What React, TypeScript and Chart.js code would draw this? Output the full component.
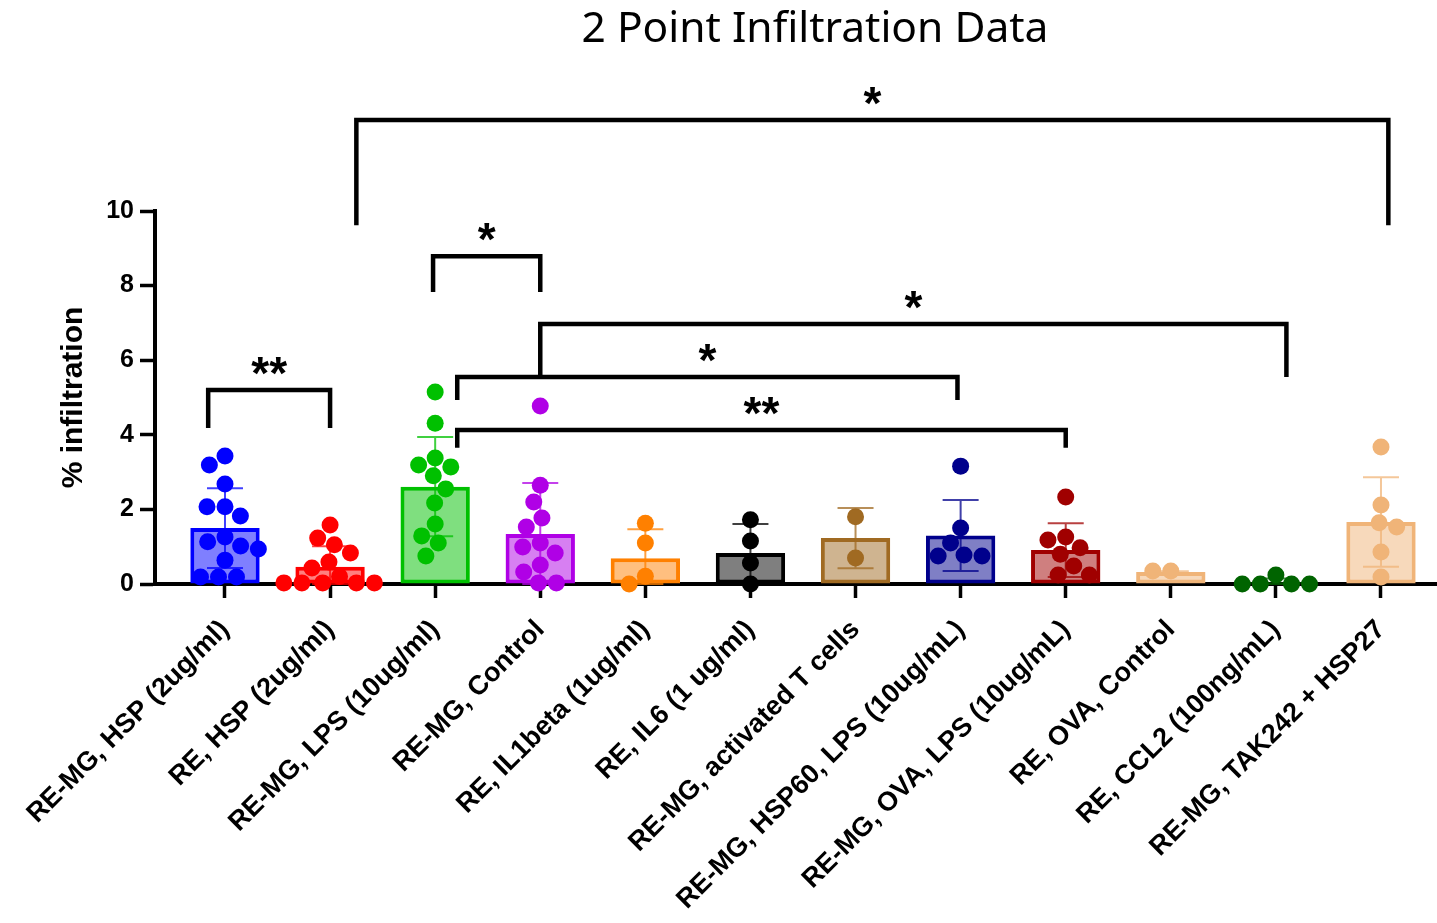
import React, { useEffect, useRef } from 'react';
import { Chart, registerables } from 'chart.js';

Chart.register(...registerables);

// ---------------- DATA ----------------
const categories = [
  'RE-MG, HSP (2ug/ml)',
  'RE, HSP (2ug/ml)',
  'RE-MG, LPS (10ug/ml)',
  'RE-MG, Control',
  'RE, IL1beta (1ug/ml)',
  'RE, IL6 (1 ug/ml)',
  'RE-MG, activated T cells',
  'RE-MG, HSP60, LPS (10ug/mL)',
  'RE-MG, OVA, LPS (10ug/mL)',
  'RE, OVA, Control',
  'RE, CCL2 (100ng/mL)',
  'RE-MG, TAK242 + HSP27',
];

const means = [1.5, 0.46, 2.61, 1.34, 0.69, 0.83, 1.23, 1.3, 0.91, 0.32, 0.05, 1.66];
const sds = [1.07, 0.55, 1.33, 1.37, 0.78, 0.78, 0.81, 0.95, 0.72, 0.02, 0.1, 1.2];

const pts0 = [3.43, 3.19, 2.68, 2.07, 2.07, 1.82, 1.26, 1.13, 1.02, 0.94, 0.64, 0.19, 0.19, 0.19];
const pts1 = [1.58, 1.23, 1.05, 0.83, 0.59, 0.43, 0.2, 0.03, 0.03, 0.03, 0.03, 0.03];
const pts2 = [5.15, 4.31, 3.38, 3.19, 3.14, 2.9, 2.55, 2.17, 1.61, 1.29, 1.1, 0.75];
const pts3 = [4.77, 2.65, 2.2, 1.77, 1.53, 1.1, 0.99, 0.83, 0.51, 0.32, 0.03, 0.03];
const pts4 = [1.63, 1.1, 0.21, 0.0];
const pts5 = [1.72, 1.15, 0.56, 0.0];
const pts6 = [1.8, 0.7];
const pts7 = [3.16, 1.5, 1.1, 0.78, 0.75, 0.75];
const pts8 = [2.33, 1.26, 1.18, 0.97, 0.8, 0.48, 0.24, 0.24];
const pts9 = [0.35, 0.35];
const pts10 = [0.24, 0.0, 0.0, 0.0, 0.0];
const pts11 = [3.67, 2.12, 1.64, 1.53, 0.86, 0.19];
const points = [pts0, pts1, pts2, pts3, pts4, pts5, pts6, pts7, pts8, pts9, pts10, pts11];

const yTicks = [0, 2, 4, 6, 8, 10];

// significance brackets (x in category index units, y in % units)
const bracketFrom = [-0.16, 1.98, 1.25, 3.0, 2.21, 2.21];
const bracketTo = [1.0, 3.0, 11.07, 10.1, 6.97, 8.0];
const bracketLevel = [5.2, 8.79, 12.44, 6.97, 5.55, 4.13];
const bracketLegEnd = [4.18, 7.83, 9.62, 5.55, 4.93, 3.65];
const bracketLabels = ['**', '*', '*', '*', '*', '**'];

// ---------------- STYLE ----------------
const colors = [
  '#0000FF', '#FF0000', '#00C000', '#B000E6', '#FF8000', '#000000',
  '#A06A22', '#00008C', '#A00000', '#F0B478', '#006400', '#F0B478',
];
function fillOf(hex: string) {
  const r = parseInt(hex.slice(1, 3), 16);
  const g = parseInt(hex.slice(3, 5), 16);
  const b = parseInt(hex.slice(5, 7), 16);
  return `rgba(${r},${g},${b},0.5)`;
}

const AXIS_FONT = "'Liberation Sans', Arial, sans-serif";
const DOT_R = 8.5;

function swarm(values: number[], sep: number, xPx: number, yPx: number): number[] {
  const placed: { dx: number; y: number }[] = [];
  const out: number[] = [];
  for (const v of values) {
    const y = v * yPx;
    const cands = [0];
    for (const p of placed) {
      const dy = Math.abs(p.y - y);
      if (dy < sep) {
        const h = Math.sqrt(sep * sep - dy * dy);
        cands.push(p.dx + h, p.dx - h);
      }
    }
    cands.sort((a, b) => Math.abs(a) - Math.abs(b) || a - b);
    let chosen = 0;
    for (const c of cands) {
      if (placed.every((p) => (p.dx - c) ** 2 + (p.y - y) ** 2 >= sep * sep - 0.01)) {
        chosen = c;
        break;
      }
    }
    placed.push({ dx: chosen, y });
    out.push(chosen / xPx);
  }
  return out;
}

const overlayPlugin = {
  id: 'overlay',
  afterDatasetDraw(chart: any, args: any) {
    if (args.index !== 0) return;
    const ctx = chart.ctx;
    const x = chart.scales.x;
    const y = chart.scales.y;
    ctx.save();
    means.forEach((m, i) => {
      const cx = x.getPixelForValue(i);
      const top = y.getPixelForValue(m + sds[i]);
      const bot = y.getPixelForValue(Math.max(0, m - sds[i]));
      ctx.strokeStyle = colors[i];
      ctx.globalAlpha = 0.75;
      ctx.lineWidth = 2;
      ctx.beginPath();
      ctx.moveTo(cx, top);
      ctx.lineTo(cx, bot);
      ctx.moveTo(cx - 18, top);
      ctx.lineTo(cx + 18, top);
      ctx.moveTo(cx - 18, bot);
      ctx.lineTo(cx + 18, bot);
      ctx.stroke();
    });
    ctx.restore();
  },
  afterDraw(chart: any) {
    const ctx = chart.ctx;
    const x = chart.scales.x;
    const y = chart.scales.y;
    ctx.save();
    // brackets
    ctx.strokeStyle = '#000';
    ctx.lineWidth = 4.5;
    ctx.lineCap = 'butt';
    ctx.lineJoin = 'miter';
    bracketFrom.forEach((f, i) => {
      const x1 = x.getPixelForValue(f);
      const x2 = x.getPixelForValue(bracketTo[i]);
      const yl = y.getPixelForValue(bracketLevel[i]);
      const ye = y.getPixelForValue(bracketLegEnd[i]);
      ctx.beginPath();
      ctx.moveTo(x1, ye);
      ctx.lineTo(x1, yl);
      ctx.lineTo(x2, yl);
      ctx.lineTo(x2, ye);
      ctx.stroke();
      ctx.fillStyle = '#000';
      ctx.font = `bold 46px ${AXIS_FONT}`;
      ctx.textAlign = 'center';
      ctx.textBaseline = 'alphabetic';
      ctx.fillText(bracketLabels[i], (x1 + x2) / 2, yl - 1);
    });
    // title
    ctx.fillStyle = '#000';
    ctx.font = "42.5px 'Noto Sans', 'Open Sans', sans-serif";
    ctx.textAlign = 'center';
    ctx.textBaseline = 'alphabetic';
    ctx.fillText('2 Point Infiltration Data', 815, 42);
    ctx.restore();
  },
};

export default function App() {
  const ref = useRef<HTMLCanvasElement | null>(null);
  useEffect(() => {
    if (!ref.current) return;
    const xPx = (1381 - 225) / 11;
    const yPx = 37.3;
    const datasets: any[] = [
      {
        type: 'bar',
        data: means.map((m, i) => ({ x: i, y: m })),
        backgroundColor: colors.map(fillOf),
        borderColor: colors,
        borderWidth: 4,
        borderSkipped: false,
        barPercentage: 0.66,
        categoryPercentage: 1,
        order: 1,
      },
      ...points.map((vals, i) => {
        const jit = swarm(vals, 18, xPx, yPx);
        return {
          type: 'scatter',
          data: vals.map((v, k) => ({ x: i + jit[k], y: v })),
          pointRadius: DOT_R,
          pointHoverRadius: DOT_R,
          pointBackgroundColor: colors[i],
          pointBorderWidth: 0,
          order: 0,
          clip: false,
        };
      }),
    ];
    const chart = new Chart(ref.current, {
      type: 'bar',
      data: { datasets },
      plugins: [overlayPlugin],
      options: {
        animation: false,
        responsive: false,
        devicePixelRatio: 1,
        layout: { autoPadding: false, padding: { top: 211, left: 0, right: 0, bottom: 0 } },
        plugins: { legend: { display: false }, tooltip: { enabled: false }, title: { display: false } },
        scales: {
          x: {
            type: 'linear',
            min: -0.666,
            max: 11.533,
            bounds: 'data',
            offset: false,
            afterBuildTicks: (s: any) => {
              s.ticks = categories.map((_, i) => ({ value: i }));
            },
            afterFit: (s: any) => {
              s.height = 339;
              s.paddingRight = 0;
              s.paddingLeft = 0;
            },
            ticks: {
              autoSkip: false,
              minRotation: 45,
              maxRotation: 45,
              padding: 16,
              color: '#000',
              font: { family: AXIS_FONT, size: 27, weight: 'bold' },
              callback: (v: any) => categories[Math.round(v)] ?? '',
            },
            grid: {
              display: true,
              offset: false,
              drawOnChartArea: false,
              drawTicks: true,
              tickLength: 14,
              tickWidth: 3.5,
              tickColor: '#000',
            },
            border: { display: true, color: '#000', width: 4 },
          },
          y: {
            type: 'linear',
            min: 0,
            max: 10,
            afterBuildTicks: (s: any) => {
              s.ticks = yTicks.map((v) => ({ value: v }));
            },
            afterFit: (s: any) => {
              s.width = 155;
              s.paddingTop = 0;
              s.paddingBottom = 0;
            },
            ticks: {
              padding: 6,
              color: '#000',
              font: { family: AXIS_FONT, size: 25, weight: 'bold' },
            },
            grid: {
              display: true,
              drawOnChartArea: false,
              drawTicks: true,
              tickLength: 15,
              tickWidth: 3.5,
              tickColor: '#000',
            },
            border: { display: true, color: '#000', width: 4 },
            title: {
              display: true,
              text: '% infiltration',
              color: '#000',
              padding: { top: 56, bottom: 0 },
              font: { family: AXIS_FONT, size: 30, weight: 'bold' },
            },
          },
        },
      } as any,
    });
    return () => chart.destroy();
  }, []);
  return (
    <div style={{ position: 'fixed', left: 0, top: 0, width: 1437, height: 923, background: '#fff' }}>
      <canvas ref={ref} width={1437} height={923} style={{ width: 1437, height: 923, display: 'block' }} />
    </div>
  );
}
